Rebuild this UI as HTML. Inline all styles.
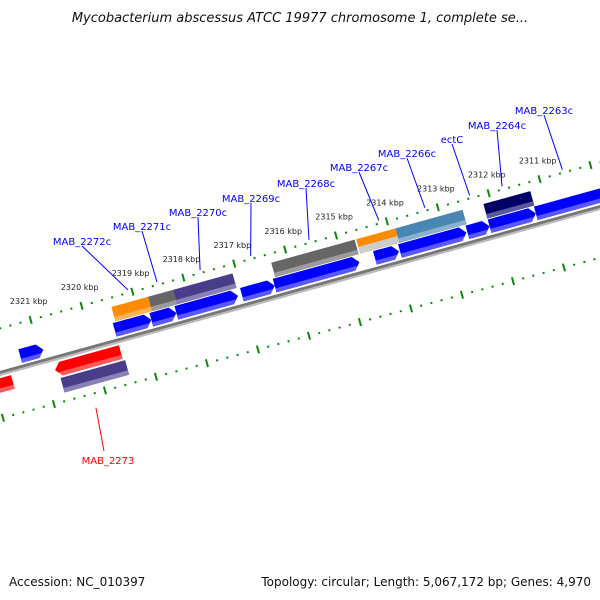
<!DOCTYPE html>
<html><head><meta charset="utf-8"><style>
html,body{margin:0;padding:0;background:#fff;}
svg{display:block;}
text{font-family:"DejaVu Sans","Liberation Sans",sans-serif;}
</style></head><body>
<svg id="map" width="600" height="600" viewBox="0 0 600 600" xmlns="http://www.w3.org/2000/svg">
<rect width="600" height="600" fill="#fff"/>
<text x="300" y="22" text-anchor="middle" font-size="13" font-style="italic" fill="#111">Mycobacterium abscessus ATCC 19977 chromosome 1, complete se...</text>
<g id="track" transform="translate(0,373) rotate(-15.46)"></g>
<g id="labels"></g>
<text x="9" y="586" font-size="12" fill="#111">Accession: NC_010397</text>
<text x="591" y="586" text-anchor="end" font-size="12" fill="#111">Topology: circular; Length: 5,067,172 bp; Genes: 4,970</text>
</svg>
<script>
// gene data (bp)
const geneStart = [2321373,2319517,2318797,2318305,2317017,2316373,2314403,2313911,2312585,2312150,2311241];
const geneEnd   = [2320919,2318797,2318305,2317093,2316373,2314707,2313930,2312604,2312150,2311241,2309328];
const revStart = [2322583,2320808];
const revEnd   = [2321638,2319517];
const cogStart = [2319460,2318740,2318250,2316320,2314650,2313880,2312150];
const cogEnd   = [2318740,2318250,2317080,2314680,2313880,2312560,2311230];
const cogColor = ['#ff8c00','#666666','#483d8b','#666666','#ff8c00','#4a86b4','#000066'];
const revCogStart = [2320748];
const revCogEnd   = [2319479];
const revCogColor = ['#483d8b'];
const tickLabels = ['2311 kbp','2312 kbp','2313 kbp','2314 kbp','2315 kbp','2316 kbp','2317 kbp','2318 kbp','2319 kbp','2320 kbp','2321 kbp'];
const tickKbp = [2311,2312,2313,2314,2315,2316,2317,2318,2319,2320,2321];
const geneNames = ['MAB_2272c','MAB_2271c','MAB_2270c','MAB_2269c','MAB_2268c','MAB_2267c','MAB_2266c','ectC','MAB_2264c','MAB_2263c'];
const geneLabelBp = [2319072,2318502,2317655,2316661,2315515,2314142,2313237,2312358,2311721,2310536];
const revNames = ['MAB_2273'];
const revLabelBp = [2320252];

const NS='http://www.w3.org/2000/svg';
const track=document.getElementById('track');
const labels=document.getElementById('labels');
const C=0.9638,S=0.2666;
function u(bp){return 149.3+(2319000-bp)*0.0528;}
function scr(uu,v){return [uu*C+v*S, 373-uu*S+v*C];}
function mk(tag,attrs,parent){const e=document.createElementNS(NS,tag);for(const k in attrs)e.setAttribute(k,attrs[k]);parent.appendChild(e);return e;}
function shade(hex,f){const n=parseInt(hex.slice(1),16);let r=n>>16,g=(n>>8)&255,b=n&255;r=Math.round(r+(255-r)*f);g=Math.round(g+(255-g)*f);b=Math.round(b+(255-b)*f);return 'rgb('+r+','+g+','+b+')';}

// backbone
let bb=mk('rect',{x:-60,y:-2,width:800,height:3,fill:'#777'},track);


let bb2=mk('rect',{x:-60,y:1,width:800,height:2,fill:'#bbb'},track);



// ticks
for(let bp=2308000;bp<=2323000;bp+=200){
  const x=u(bp); if(x<-40||x>700) continue;
  const major=bp%1000===0;
  [-43,44+5*x/620].forEach(function(vc){
    let t=mk('rect',{x:x-1,y:major?vc-4:vc-1,width:2,height:major?8:2,fill:'#0a8a0a'},track);
    
    
  });
}
tickKbp.forEach(function(k,i){
  const p=scr(u(k*1000),-50);
  let t=mk('text',{x:p[0],y:p[1]-9,'text-anchor':'middle','font-size':'8',fill:'#222'},labels);
  t.textContent=tickLabels[i];
  
  
});

function box(x0,x1,v0,h,color,dir,name){
  const g=mk('g',{},track);
  
  
  const a=Math.min(x0,x1),b=Math.max(x0,x1);
  let pts;
  if(dir===1){const t=Math.max(a,b-6);pts=[[a,v0],[t,v0],[b,v0+h/2],[t,v0+h],[a,v0+h]];}
  else if(dir===-1){const t=Math.min(b,a+6);pts=[[t,v0],[b,v0],[b,v0+h],[t,v0+h],[a,v0+h/2]];}
  else pts=[[a,v0],[b,v0],[b,v0+h],[a,v0+h]];
  mk('polygon',{points:pts.map(p=>p.join(',')).join(' '),fill:color},g);
  const lo=v0+h*0.7;
  let p2;
  if(dir===1){const t=Math.max(a,b-6);p2=[[a,lo],[t+6*0.6,lo],[t,v0+h],[a,v0+h]];}
  else if(dir===-1){const t=Math.min(b,a+6);p2=[[t-6*0.6,lo],[b,lo],[b,v0+h],[t,v0+h]];}
  else p2=[[a,lo],[b,lo],[b,v0+h],[a,v0+h]];
  mk('polygon',{points:p2.map(p=>p.join(',')).join(' '),fill:shade(color,0.35)},g);
}
geneStart.forEach(function(s,i){box(u(s),u(geneEnd[i]),-18,14,'#0000ff',1,'forward-gene');});
revStart.forEach(function(s,i){box(u(s),u(revEnd[i]),5,14,'#ff0000',-1,'reverse-gene');});
cogStart.forEach(function(s,i){box(u(s),u(cogEnd[i]),-34,15,cogColor[i],0,'cog-feature');});
let lg=mk('rect',{x:u(cogStart[4]),y:-26,width:u(cogEnd[4])-u(cogStart[4]),height:7,fill:'#ccc'},track);


revCogStart.forEach(function(s,i){box(u(s),u(revCogEnd[i]),21,15,revCogColor[i],0,'reverse-cog-feature');});

// gene labels
const labPos=[[82,242],[142,227],[198,213],[251,199],[306,184],[359,168],[407,154],[452,140],[497,126],[544,111]];
geneNames.forEach(function(n,i){
  const p=scr(u(geneLabelBp[i]),-46);
  let l=mk('line',{x1:labPos[i][0],y1:labPos[i][1]+4,x2:p[0],y2:p[1],stroke:'#00f','stroke-width':1},labels);
  
  
  let t=mk('text',{x:labPos[i][0],y:labPos[i][1]+3,'text-anchor':'middle','font-size':'10',fill:'#00f'},labels);
  t.textContent=n;
  
  
});
revNames.forEach(function(n,i){
  const p=scr(u(revLabelBp[i]),59);
  let l=mk('line',{x1:p[0],y1:p[1],x2:104,y2:451,stroke:'#f00','stroke-width':1},labels);
  
  
  let t=mk('text',{x:108,y:464,'text-anchor':'middle','font-size':'10',fill:'#f00'},labels);
  t.textContent=n;
  
  
});
</script>
</body></html>
